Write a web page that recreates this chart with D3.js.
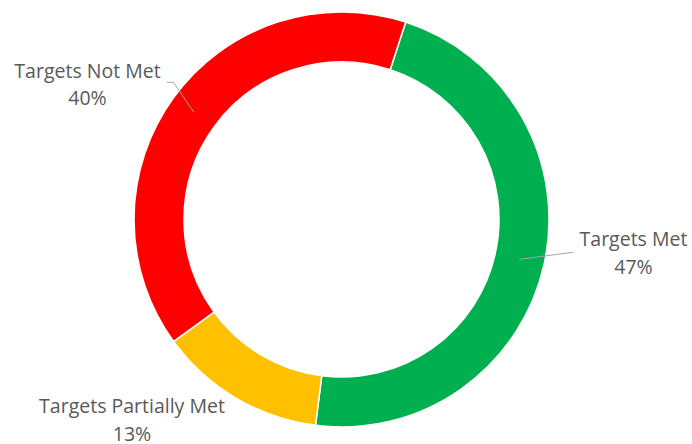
<!DOCTYPE html>
<html>
<head>
<meta charset="utf-8">
<script src="https://cdn.jsdelivr.net/npm/d3@7"></script>
<style>
  html, body { margin: 0; padding: 0; background: #fff; }
  svg { display: block; }
  text { font-family: "Open Sans", Lato, sans-serif; fill: #595959; }
</style>
</head>
<body>
<svg id="chart" width="692" height="444"></svg>
<script>
// Share of targets by status
const categories = ["Targets Met", "Targets Partially Met", "Targets Not Met"];
const values = [47, 13, 40];
const colors = ["#00b050", "#ffc000", "#ff0000"];

const width = 692, height = 444;
const cx = 341.5, cy = 219.5;
const outerR = 207.5, innerR = 157.5;
const startDeg = 18;

const svg = d3.select("#chart");
const g = svg.append("g").attr("transform", `translate(${cx},${cy})`);

const pie = d3.pie()
  .sort(null)
  .value(d => d.value)
  .startAngle(startDeg * Math.PI / 180)
  .endAngle((startDeg + 360) * Math.PI / 180);

const data = categories.map((c, i) => ({ name: c, value: values[i], color: colors[i] }));
const arcs = pie(data);
const total = d3.sum(values);

const arc = d3.arc().innerRadius(innerR).outerRadius(outerR);

g.selectAll("path.slice")
  .data(arcs)
  .join("path")
  .attr("class", "slice")
  .attr("d", arc)
  .attr("fill", d => d.data.color)
  .attr("stroke", "#ffffff")
  .attr("stroke-width", 1.5);

// Label placement (text centre / first baseline) and leader elbows
const labelLayout = {
  "Targets Met": { x: 633.5, y: 246, leader: [[573, 252.3]] },
  "Targets Partially Met": { x: 132, y: 413, leader: null },
  "Targets Not Met": { x: 87.5, y: 77.5, leader: [[167, 82.3], [173.5, 82.3]] }
};

const fontSize = 19.5;
const lineGap = 27.5;

arcs.forEach(a => {
  const L = labelLayout[a.data.name];
  const pct = Math.round(a.data.value / total * 100) + "%";
  const t = svg.append("text")
    .attr("text-anchor", "middle")
    .attr("font-size", fontSize);
  t.append("tspan").attr("x", L.x).attr("y", L.y).text(a.data.name);
  t.append("tspan").attr("x", L.x).attr("y", L.y + lineGap).text(pct);

  if (L.leader) {
    const c = arc.centroid(a);
    const pts = L.leader.concat([[c[0] + cx, c[1] + cy]]);
    svg.append("path")
      .attr("d", d3.line()(pts))
      .attr("fill", "none")
      .attr("stroke", "#a6a6a6")
      .attr("stroke-width", 1);
  }
});
</script>
</body>
</html>
